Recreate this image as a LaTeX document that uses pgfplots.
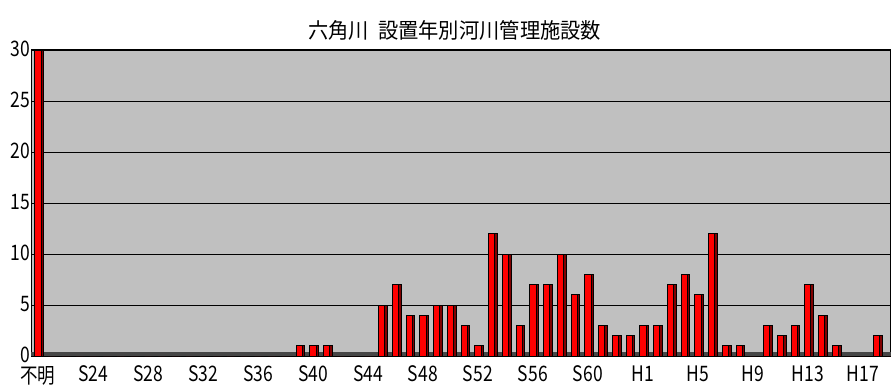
\documentclass[border=0pt]{standalone}
\usepackage{fontspec}
\setmainfont[FakeStretch=0.82]{Noto Sans CJK JP}
\newfontfamily\titlefont[FakeStretch=0.95]{Noto Sans CJK JP}
\usepackage{pgfplots}
\pgfplotsset{compat=1.18}
\definecolor{bgg}{HTML}{C0C0C0}
\definecolor{dred}{HTML}{800000}
\pgfplotstableread{
x y
0 30
1 0
2 0
3 0
4 0
5 0
6 0
7 0
8 0
9 0
10 0
11 0
12 0
13 0
14 0
15 0
16 0
17 0
18 0
19 1
20 1
21 1
22 0
23 0
24 0
25 5
26 7
27 4
28 4
29 5
30 5
31 3
32 1
33 12
34 10
35 3
36 7
37 7
38 10
39 6
40 8
41 3
42 2
43 2
44 3
45 3
46 7
47 8
48 6
49 12
50 1
51 1
52 0
53 3
54 2
55 3
56 7
57 4
58 1
59 0
60 0
61 2
62 0
}\data
\begin{document}
\begin{tikzpicture}
\useasboundingbox (0,0) rectangle (668.25pt,292.5pt);
\node[font=\titlefont\fontsize{16}{17}\selectfont] at (341pt,270pt) {六角川\ \ 設置年別河川管理施設数};
\begin{axis}[
  at={(23.3pt,25.5pt)}, anchor=south west,
  scale only axis, width=644.9pt, height=229.5pt,
  xmin=-0.5, xmax=62.04, ymin=0, ymax=30,
  axis background/.style={fill=bgg},
  axis line style={black, line width=0.8pt},
  ytick={0,5,...,30},
  ymajorgrids, grid style={black, line width=0.6pt},
  xtick={0,4,...,60},
  xticklabels={不明,S24,S28,S32,S36,S40,S44,S48,S52,S56,S60,H1,H5,H9,H13,H17},
  tick style={draw=none},
  ticklabel style={font=\fontsize{16}{17}\selectfont},
  /pgf/number format/assume math mode=true,
  yticklabel style={xshift=3pt, yshift=1pt},
  xticklabel style={yshift=-4pt},
  clip=true,
]
\fill[gray!55!black] (axis cs:-0.5,0) rectangle (axis cs:62.04,0.35);
\addplot[ybar, bar width=2pt, bar shift=3.2pt, fill=dred, draw=black, line width=0.5pt] table[x=x,y=y] {\data};
\addplot[ybar, bar width=4.6pt, bar shift=0pt, fill=red, draw=black, line width=0.7pt] table[x=x,y=y] {\data};
\end{axis}
\end{tikzpicture}
\end{document}
